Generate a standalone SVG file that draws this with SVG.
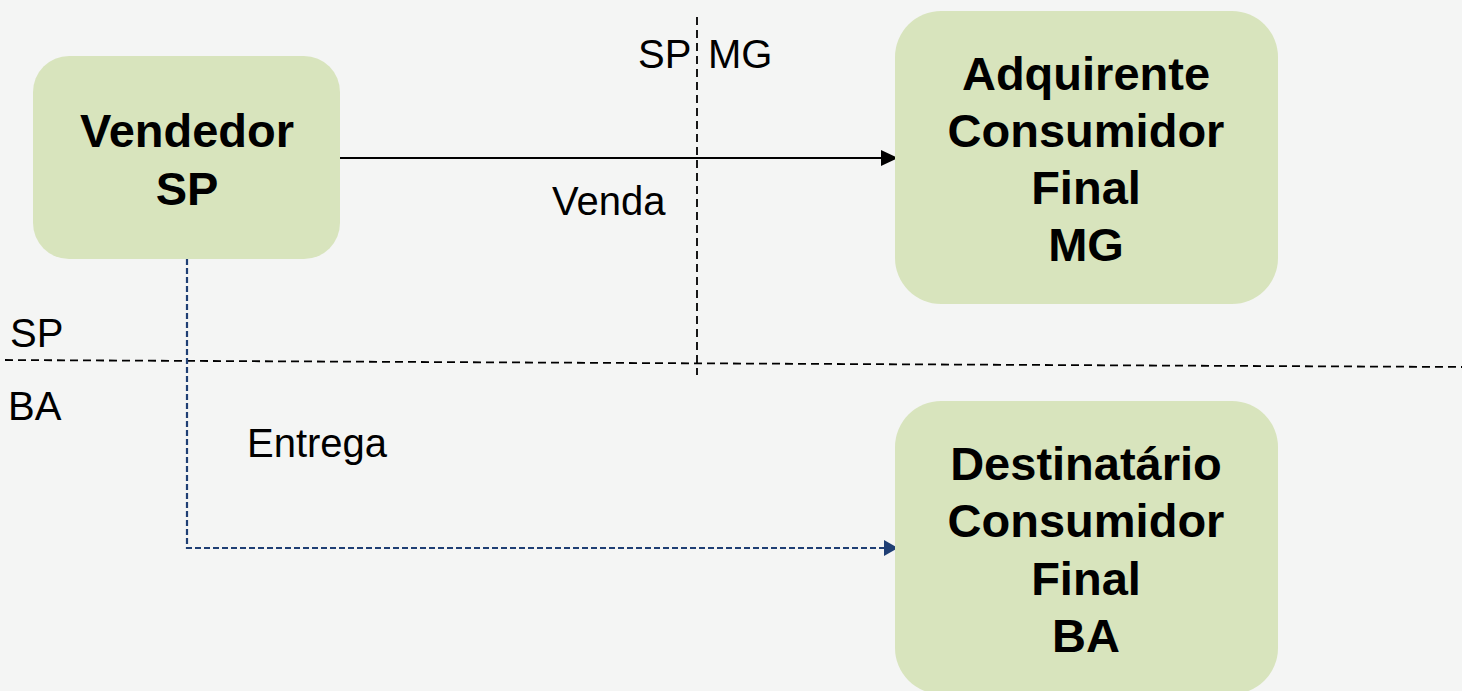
<svg xmlns="http://www.w3.org/2000/svg" width="1462" height="691" viewBox="0 0 1462 691">
<style>
.box{fill:#d8e4bd;}
.nt{font-family:"Liberation Sans",Arial,sans-serif;font-weight:bold;font-size:47px;fill:#000;text-anchor:middle;}
.lb{font-family:"Liberation Sans",Arial,sans-serif;font-size:40px;fill:#000;}
.div{stroke:#000;stroke-width:1.8;stroke-dasharray:8 5;fill:none;}
</style>
<defs>
<marker id="abl" markerWidth="14" markerHeight="16" refX="13" refY="8" orient="auto" markerUnits="userSpaceOnUse" viewBox="0 0 14 16">
<path d="M0,0 L14,8 L0,16 z" fill="#1f3f74"/>
</marker>
<marker id="ak" markerWidth="17" markerHeight="16" refX="16" refY="8" orient="auto" markerUnits="userSpaceOnUse" viewBox="0 0 17 16">
<path d="M0,0 L17,8 L0,16 z" fill="#000"/>
</marker>
</defs>
<rect x="0" y="0" width="1462" height="691" fill="#f4f5f4"/>
<g id="dividers">
<line class="div" x1="697" y1="17" x2="697" y2="375"/>
<line class="div" x1="5" y1="360" x2="1462" y2="367"/>
<text class="lb" x="638" y="68">SP</text>
<text class="lb" x="708" y="68">MG</text>
<text class="lb" x="10" y="347">SP</text>
<text class="lb" x="8" y="420">BA</text>
</g>
<g id="connectors">
<line x1="340" y1="158" x2="897" y2="158" stroke="#000" stroke-width="2.2" marker-end="url(#ak)"/>
<text class="lb" x="552" y="215">Venda</text>
<polyline points="187,259 187,548 897,548" fill="none" stroke="#1f3f74" stroke-width="2.2" stroke-dasharray="6 3" marker-end="url(#abl)"/>
<text class="lb" x="247" y="457">Entrega</text>
</g>
<g id="vendedor">
<rect class="box" x="33" y="56" width="307" height="203" rx="36" ry="36"/>
<text class="nt" x="187" y="147">Vendedor</text>
<text class="nt" x="187" y="205">SP</text>
</g>
<g id="adquirente">
<rect class="box" x="895" y="11" width="383" height="293" rx="46" ry="46"/>
<text class="nt" x="1086" y="90">Adquirente</text>
<text class="nt" x="1086" y="147">Consumidor</text>
<text class="nt" x="1086" y="204">Final</text>
<text class="nt" x="1086" y="261">MG</text>
</g>
<g id="destinatario">
<rect class="box" x="895" y="401" width="383" height="293" rx="46" ry="46"/>
<text class="nt" x="1086" y="480">Destinatário</text>
<text class="nt" x="1086" y="537">Consumidor</text>
<text class="nt" x="1086" y="595">Final</text>
<text class="nt" x="1086" y="652">BA</text>
</g>
</svg>
